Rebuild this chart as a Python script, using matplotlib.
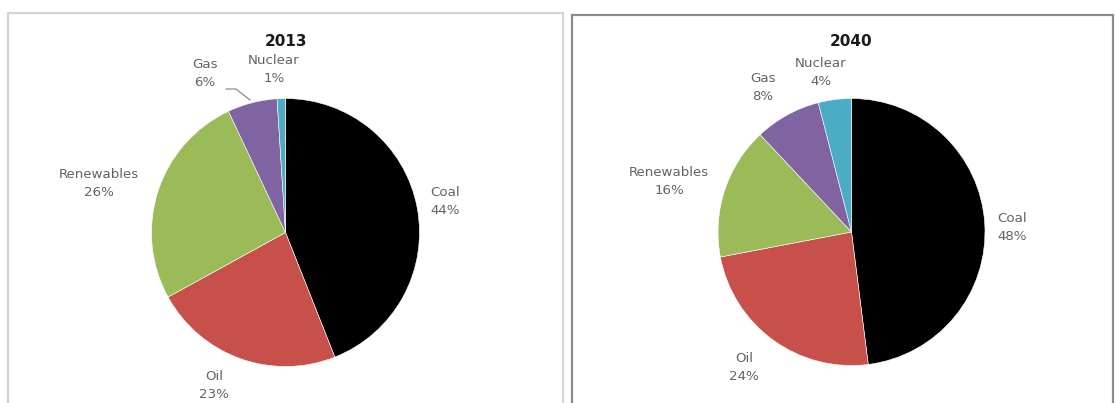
import matplotlib
matplotlib.use("Agg")
import matplotlib.pyplot as plt
from matplotlib.patches import Rectangle

# ---- data ----
categories = ["Coal", "Oil", "Renewables", "Gas", "Nuclear"]
shares_2013 = [44, 23, 26, 6, 1]
shares_2040 = [48, 24, 16, 8, 4]
titles = ["2013", "2040"]

# ---- style / layout ----
colors = ["#000000", "#C8504A", "#9BBB59", "#8064A2", "#4BACC6"]
W, H = 1115, 403
text_color = "#636363"

fig = plt.figure(figsize=(W / 100, H / 100), dpi=100)
ax = fig.add_axes([0, 0, 1, 1])
ax.set_xlim(0, W)
ax.set_ylim(0, H)
ax.set_aspect("equal")
ax.axis("off")


def py(y):
    return H - y


# panel frames
ax.add_patch(Rectangle((8, py(420)), 555, 420 - 13, fill=False,
                       edgecolor="#d4d4d4", linewidth=1.6))
ax.add_patch(Rectangle((572, py(420)), 541, 420 - 15, fill=False,
                       edgecolor="#8c8c8c", linewidth=1.6))

panels = [
    dict(values=shares_2013, title=titles[0], center=(285.5, 232.5), r=134,
         labels={"Coal": (445, 202), "Oil": (214, 386), "Renewables": (99, 183.5),
                 "Gas": (205, 74), "Nuclear": (274, 69)}),
    dict(values=shares_2040, title=titles[1], center=(851.5, 232), r=133.5,
         labels={"Coal": (1012, 227), "Oil": (744, 367.5), "Renewables": (669, 181.5),
                 "Gas": (763, 87.5), "Nuclear": (821, 72.5)}),
]

for p in panels:
    cx, cy = p["center"]
    ax.pie(p["values"], colors=colors, startangle=90, counterclock=False,
           center=(cx, py(cy)), radius=p["r"], frame=True,
           wedgeprops=dict(edgecolor="white", linewidth=0.4))
    ax.text(cx, py(42), p["title"], ha="center", va="center",
            fontsize=11, fontweight="bold", color="#1a1a1a",
            family="DejaVu Sans")
    for cat, val in zip(categories, p["values"]):
        lx, ly = p["labels"][cat]
        ax.text(lx, py(ly), f"{cat}\n{val}%", ha="center", va="center",
                fontsize=9.6, color=text_color, linespacing=1.5,
                family="DejaVu Sans")

# leader line for the small Gas slice in 2013
ax.plot([226, 236, 250], [py(89), py(89), py(100)], color="#7f7f7f", linewidth=0.8)

ax.set_xlim(0, W)
ax.set_ylim(0, H)
fig.savefig("out.png", dpi=100, facecolor="white")
